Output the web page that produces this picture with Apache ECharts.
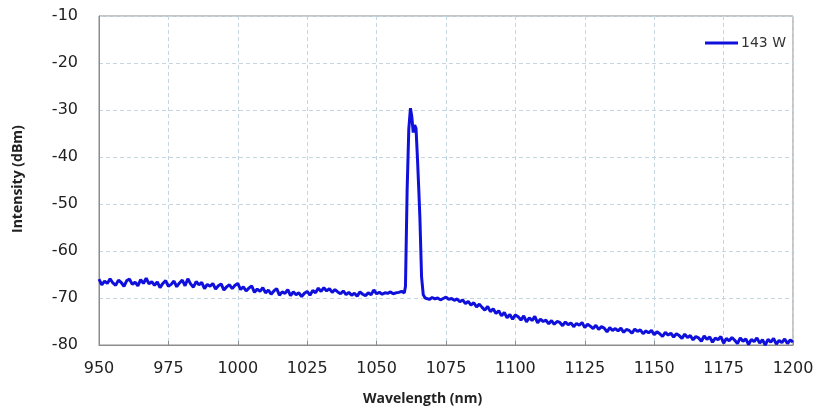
<!DOCTYPE html>
<html>
<head>
<meta charset="utf-8">
<script src="https://cdn.jsdelivr.net/npm/echarts@6/dist/echarts.min.js"></script>
<style>
  html, body { margin: 0; padding: 0; background: #ffffff; }
  #chart { width: 819px; height: 415px; }
</style>
</head>
<body>
<div id="chart"></div>
<script>
// Axis ticks
const xTicks = [950, 975, 1000, 1025, 1050, 1075, 1100, 1125, 1150, 1175, 1200];
const yTicks = [-80, -70, -60, -50, -40, -30, -20, -10];

// Spectrum, 143 W output. Background sampled every 1 nm.
const leftStart = 950; // 950 ... 1059 nm
const leftDbm = [
  -66.0, -67.2, -66.4, -66.9, -65.9, -66.8, -67.3, -66.2, -66.7, -67.5,
  -66.3, -66.0, -67.1, -66.6, -67.4, -66.1, -66.9, -65.8, -67.0, -66.5,
  -67.3, -66.6, -67.8, -66.9, -66.3, -67.5, -67.1, -66.4, -67.6, -66.8,
  -66.2, -67.4, -65.9, -67.0, -67.7, -66.5, -67.2, -66.7, -68.0, -67.1,
  -67.5, -66.9, -68.1, -67.4, -67.0, -68.3, -67.6, -67.2, -68.0, -67.3,
  -66.9, -68.2, -67.6, -68.5, -67.9, -67.4, -68.8, -68.1, -68.6, -67.8,
  -68.9, -68.3, -69.2, -68.5, -68.0, -69.4, -68.7, -69.0, -68.2, -69.5,
  -68.7, -69.3, -68.9, -69.7, -69.0, -68.6, -69.4, -68.4, -68.9, -67.9,
  -68.6, -67.8, -68.5, -68.0, -68.8, -68.2, -68.7, -69.1, -68.5, -69.3,
  -68.8, -69.4, -69.0, -69.6, -68.7, -69.2, -69.5, -68.9, -69.3, -68.3,
  -69.1, -68.8, -69.2, -68.9, -69.0, -68.7, -69.1, -68.9, -68.8, -68.6
];

// Laser line, sampled more finely
const peakNm = [1060.0, 1060.4, 1061.0, 1061.6, 1062.2, 1062.7, 1063.2, 1063.7, 1064.2, 1064.7, 1065.2, 1065.6, 1066.2, 1066.8, 1067.5];
const peakDbm = [-68.9, -67.5, -47.0, -34.0, -29.6, -31.5, -34.8, -33.2, -33.9, -40.0, -47.0, -53.0, -65.5, -69.3, -70.0];

const rightStart = 1068; // 1068 ... 1200 nm
const rightDbm = [
  -70.0, -70.3, -69.9, -70.2, -70.0, -70.4, -70.1, -69.8, -70.3, -70.1,
  -70.5, -70.2, -70.8, -70.4, -71.2, -70.7, -71.5, -71.0, -71.9, -71.3,
  -72.0, -72.6, -71.8, -72.9, -72.3, -73.3, -72.7, -73.8, -73.1, -74.2,
  -73.5, -74.5, -73.6, -74.0, -74.7, -73.8, -75.1, -74.2, -74.8, -73.9,
  -75.3, -74.5, -75.0, -74.7, -75.5, -74.8, -75.6, -75.0, -75.2, -75.9,
  -75.1, -75.7, -75.3, -76.1, -75.4, -75.8, -75.2, -76.3, -75.6, -76.0,
  -76.5, -75.8, -76.7, -76.1, -76.4, -77.2, -76.3, -76.9, -76.5, -77.0,
  -76.4, -77.3, -76.7, -76.9, -77.5, -76.6, -77.1, -76.8, -77.6, -77.0,
  -77.4, -76.9, -77.8, -77.2, -77.6, -78.2, -77.3, -77.9, -77.5, -78.3,
  -77.6, -78.0, -78.6, -77.7, -78.4, -78.0, -78.9, -78.2, -78.5, -79.2,
  -78.1, -78.8, -78.3, -79.4, -78.5, -78.9, -78.2, -79.6, -78.6, -79.1,
  -78.4, -79.0, -79.7, -78.5, -79.2, -78.7, -79.9, -78.8, -79.3, -78.5,
  -79.6, -78.9, -80.0, -78.8, -79.4, -78.6, -79.8, -79.0, -79.5, -78.7,
  -79.7, -78.9, -79.4
];

const seriesName = '143 W';

// Assemble [wavelength, dBm] pairs
const spectrum = [];
leftDbm.forEach((v, i) => spectrum.push([leftStart + i, v]));
peakNm.forEach((w, i) => spectrum.push([w, peakDbm[i]]));
rightDbm.forEach((v, i) => spectrum.push([rightStart + i, v]));

const chart = echarts.init(document.getElementById('chart'), null, { renderer: 'canvas' });

const gridLine = { show: true, lineStyle: { color: '#c4d6df', type: [4, 3], width: 1 } };
const tickFont = { fontFamily: 'DejaVu Sans', fontSize: 16, color: '#222' };

chart.setOption({
  animation: false,
  backgroundColor: '#ffffff',
  grid: {
    left: 99, right: 26, top: 16, bottom: 70,
    show: true, borderColor: '#8c8c8c', borderWidth: 1
  },
  legend: {
    data: [seriesName],
    left: 700, top: 31,
    icon: 'rect', itemWidth: 33, itemHeight: 3, itemGap: 4,
    textStyle: { fontFamily: 'DejaVu Sans', fontSize: 14, color: '#333', padding: [0, 0, 0, -2] }
  },
  xAxis: {
    type: 'value',
    min: xTicks[0], max: xTicks[xTicks.length - 1], interval: 25,
    axisLine: { show: true, lineStyle: { color: '#8c8c8c', width: 1 } },
    axisTick: { show: true, inside: true, length: 4, lineStyle: { color: '#8c8c8c' } },
    axisLabel: Object.assign({ margin: 16, formatter: v => String(v) }, tickFont),
    splitLine: gridLine
  },
  yAxis: {
    type: 'value',
    min: yTicks[0], max: yTicks[yTicks.length - 1], interval: 10,
    axisLine: { show: true, lineStyle: { color: '#8c8c8c', width: 1 } },
    axisTick: { show: false },
    axisLabel: Object.assign({ margin: 21, formatter: v => String(v) }, tickFont),
    splitLine: gridLine
  },
  graphic: [
    {
      type: 'text', left: 363, top: 392,
      style: { text: 'Wavelength (nm)', font: 'bold 14px "Open Sans"', fill: '#222' }
    },
    {
      type: 'text', x: 11, y: 233, rotation: Math.PI / 2,
      style: { text: 'Intensity (dBm)', font: 'bold 14px "Open Sans"', fill: '#222' }
    }
  ],
  series: [{
    name: seriesName,
    type: 'line',
    data: spectrum,
    showSymbol: false,
    symbol: 'none',
    clip: true,
    lineStyle: { color: '#1010dd', width: 3 },
    itemStyle: { color: '#1010dd' }
  }]
});
</script>
</body>
</html>
